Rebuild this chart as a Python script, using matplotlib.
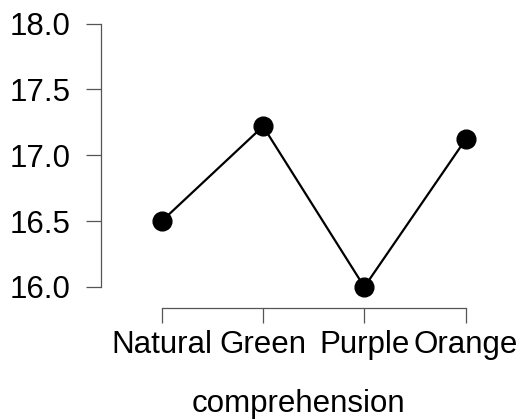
import matplotlib
matplotlib.use("Agg")
import matplotlib.pyplot as plt

categories = ["Natural", "Green", "Purple", "Orange"]
values = [16.5, 17.22, 16.0, 17.12]
yticks = [16.0, 16.5, 17.0, 17.5, 18.0]
xlabel = "comprehension"

plt.rcParams['font.family'] = ['Liberation Sans', 'DejaVu Sans']

fig = plt.figure(figsize=(5.22, 4.19), dpi=100)
ax = fig.add_axes([101/522, 111/419, (496-101)/522, (419-111-17)/419])

x = list(range(len(categories)))
ax.plot(x, values, color="black", lw=1.6, marker="o", markersize=13.5,
        markerfacecolor="black", markeredgecolor="black", zorder=3, clip_on=False)

ax.set_xlim(-0.6, 3.3)
ax.set_ylim(15.84, 18.05)
ax.set_yticks(yticks)
ax.set_yticklabels([f"{v:.1f}" for v in yticks])
ax.set_xticks(x)
ax.set_xticklabels(categories)

for s in ["top", "right"]:
    ax.spines[s].set_visible(False)
ax.spines["left"].set_bounds(16.0, 18.0)
ax.spines["bottom"].set_bounds(0, 3)
for s in ["left", "bottom"]:
    ax.spines[s].set_color("#555555")
    ax.spines[s].set_linewidth(0.9)

ax.tick_params(axis="y", length=11, width=0.9, color="#555555", pad=11,
               labelsize=22.5, labelcolor="black")
ax.tick_params(axis="x", length=11, width=0.9, color="#555555", pad=5,
               labelsize=22.5, labelcolor="black")
ax.set_xlabel(xlabel, fontsize=22.5, labelpad=21)

fig.savefig("out.png", dpi=100)
